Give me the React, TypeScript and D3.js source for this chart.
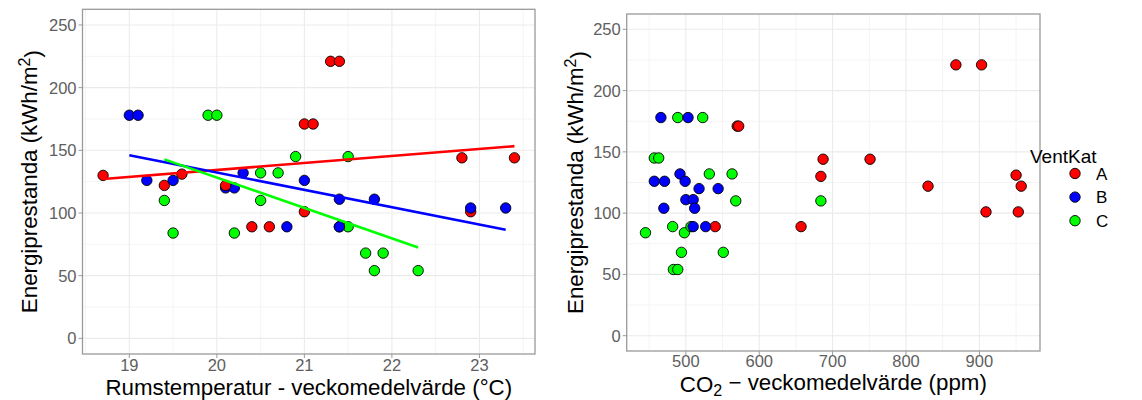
import React from "react";
import * as d3 from "d3";

// ---- data (one entry per observation) ----
const group = ["A","B","C","A","B","C","A","B","C","B","B","A","A","A","C","B","C","A","A","B","C","A","B","C","C","A","A","B","B","C","C","A","A","A","B","B","C","C","B","B","C","C","C","C"];
const temperature = [18.7,19.0,19.9,19.4,19.1,20.0,19.6,19.2,20.9,20.1,20.2,20.1,20.4,20.6,21.5,19.5,20.5,21.0,21.1,20.3,20.7,21.0,21.0,19.4,20.5,21.3,21.4,21.4,21.8,19.5,20.2,22.8,23.4,22.9,22.9,23.3,21.5,21.4,20.8,21.4,21.7,21.9,21.8,22.3];
const co2 = [684,466,489,830,503,523,950,457,457,518,544,957,657,540,463,471,532,570,572,492,563,909,499,568,684,868,903,500,510,445,498,687,751,953,470,512,482,507,510,527,494,551,483,489];
const energy = [130,178,178,122,178,178,131,126,145,120,120,122,89,89,145,126,132,171,171,132,132,101,126,110,110,221,221,111,111,84,84,144,144,101,104,104,89,89,89,89,68,68,54,54];

const groups = ["A", "B", "C"];
const groupColors = ["#FF0000", "#0000FF", "#00FF00"];
const tempTicks = [19, 20, 21, 22, 23];
const tempMinor = [18.5, 19.5, 20.5, 21.5, 22.5, 23.5];
const co2Ticks = [500, 600, 700, 800, 900];
const co2Minor = [450, 550, 650, 750, 850, 950];
const energyTicks = [0, 50, 100, 150, 200, 250];
const energyMinor = [25, 75, 125, 175, 225];

const FONT = "'Liberation Sans', Arial, sans-serif";
const color = d3.scaleOrdinal<string, string>().domain(groups).range(groupColors);

function expanded(ext: [number, number]): [number, number] {
  const r = ext[1] - ext[0];
  return [ext[0] - r * 0.05, ext[1] + r * 0.05];
}

type PanelProps = {
  xs: number[];
  left: number; right: number; top: number; bottom: number;
  xTicks: number[]; xMinor: number[];
  xTickY: number; xTitleY: number; yTitleX: number;
  xTitle: React.ReactNode; withLines: boolean;
};

function Panel(p: PanelProps) {
  const x = d3.scaleLinear().domain(expanded(d3.extent(p.xs) as [number, number])).range([p.left, p.right]);
  const y = d3.scaleLinear().domain([-12.5, 262.5]).range([p.bottom, p.top]);
  const idx = d3.range(energy.length);

  const lines = p.withLines
    ? groups.map((g) => {
        const ii = idx.filter((i) => group[i] === g);
        const mx = d3.mean(ii, (i) => p.xs[i])!;
        const my = d3.mean(ii, (i) => energy[i])!;
        const sxy = d3.sum(ii, (i) => (p.xs[i] - mx) * (energy[i] - my));
        const sxx = d3.sum(ii, (i) => (p.xs[i] - mx) ** 2);
        const b = sxy / sxx;
        const [x0, x1] = d3.extent(ii, (i) => p.xs[i]) as [number, number];
        const f = (v: number) => my + b * (v - mx);
        return { g, x0, x1, y0: f(x0), y1: f(x1) };
      })
    : [];

  const midY = (p.top + p.bottom) / 2;
  return (
    <g>
      <rect x={p.left} y={p.top} width={p.right - p.left} height={p.bottom - p.top} fill="#fff" />
      {energyMinor.map((v) => (
        <line key={"ym" + v} x1={p.left} x2={p.right} y1={y(v)} y2={y(v)} stroke="#F4F4F4" strokeWidth={1} />
      ))}
      {p.xMinor.map((v) => (
        <line key={"xm" + v} x1={x(v)} x2={x(v)} y1={p.top} y2={p.bottom} stroke="#F4F4F4" strokeWidth={1} />
      ))}
      {energyTicks.map((v) => (
        <line key={"y" + v} x1={p.left} x2={p.right} y1={y(v)} y2={y(v)} stroke="#EBEBEB" strokeWidth={1.1} />
      ))}
      {p.xTicks.map((v) => (
        <line key={"x" + v} x1={x(v)} x2={x(v)} y1={p.top} y2={p.bottom} stroke="#EBEBEB" strokeWidth={1.1} />
      ))}
      {idx.map((i) => (
        <circle key={"pt" + i} cx={x(p.xs[i])} cy={y(energy[i])} r={5.2} fill={color(group[i])} stroke="#000" strokeWidth={0.9} />
      ))}
      {lines.map((l) => (
        <line key={"l" + l.g} x1={x(l.x0)} x2={x(l.x1)} y1={y(l.y0)} y2={y(l.y1)} stroke={color(l.g)} strokeWidth={2.6} />
      ))}
      <rect x={p.left} y={p.top} width={p.right - p.left} height={p.bottom - p.top} fill="none" stroke="#9A9A9A" strokeWidth={1.3} />
      {energyTicks.map((v) => (
        <g key={"yt" + v}>
          <line x1={p.left - 4} x2={p.left} y1={y(v)} y2={y(v)} stroke="#9A9A9A" strokeWidth={1} />
          <text x={p.left - 6} y={y(v)} dy="0.36em" textAnchor="end" fontSize={16.5} fill="#5E5E5E" fontFamily={FONT}>{v}</text>
        </g>
      ))}
      {p.xTicks.map((v) => (
        <g key={"xt" + v}>
          <line x1={x(v)} x2={x(v)} y1={p.bottom} y2={p.bottom + 4} stroke="#9A9A9A" strokeWidth={1} />
          <text x={x(v)} y={p.xTickY} textAnchor="middle" fontSize={16.5} fill="#5E5E5E" fontFamily={FONT}>{v}</text>
        </g>
      ))}
      <text x={(p.left + p.right) / 2} y={p.xTitleY} textAnchor="middle" fontSize={22.3} fill="#000" fontFamily={FONT}>{p.xTitle}</text>
      <text transform={`translate(${p.yTitleX},${midY}) rotate(-90)`} textAnchor="middle" fontSize={22.3} fill="#000" fontFamily={FONT}>
        Energiprestanda (kWh/m<tspan dy="-0.45em" fontSize="0.72em">2</tspan><tspan dy="0.45em">)</tspan>
      </text>
    </g>
  );
}

export default function App() {
  return (
    <svg width={1142} height={400} style={{ position: "absolute", left: 0, top: 0, background: "#fff" }}>
      <rect width={1142} height={400} fill="#fff" />
      <Panel
        xs={temperature}
        left={82.5} right={535} top={9.3} bottom={354}
        xTicks={tempTicks} xMinor={tempMinor}
        xTickY={371} xTitleY={395} yTitleX={37}
        xTitle={"Rumstemperatur - veckomedelvärde (°C)"}
        withLines={true}
      />
      <Panel
        xs={co2}
        left={626.7} right={1040} top={14} bottom={351}
        xTicks={co2Ticks} xMinor={co2Minor}
        xTickY={367} xTitleY={391.5} yTitleX={583}
        xTitle={<>CO<tspan dy="0.3em" fontSize="0.72em">2</tspan><tspan dy="-0.3em">{" \u2212  veckomedelvärde (ppm)"}</tspan></>}
        withLines={false}
      />
      <g fontFamily={FONT}>
        <text x={1030} y={163} fontSize={19} fill="#000">VentKat</text>
        {groups.map((g, i) => (
          <g key={g}>
            <circle cx={1075} cy={173.5 + i * 23.6} r={5.2} fill={color(g)} stroke="#000" strokeWidth={0.9} />
            <text x={1096} y={173.5 + i * 23.6} dy="0.36em" fontSize={17} fill="#000">{g}</text>
          </g>
        ))}
      </g>
    </svg>
  );
}
